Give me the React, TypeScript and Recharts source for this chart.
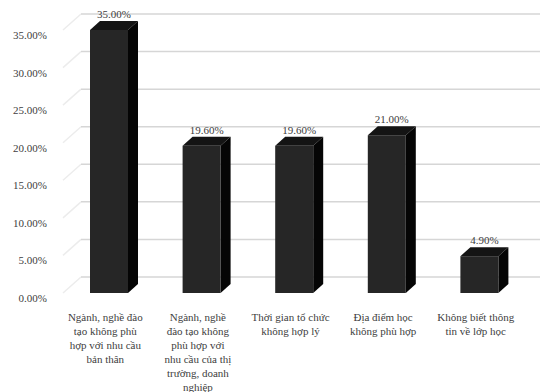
import React from 'react';
import { Bar, BarChart, CartesianGrid, LabelList, XAxis, YAxis } from 'recharts';

const categories = [
  'Ngành, nghề đào tạo không phù hợp với nhu cầu bản thân',
  'Ngành, nghề đào tạo không phù hợp với nhu cầu của thị trường, doanh nghiệp',
  'Thời gian tổ chức không hợp lý',
  'Địa điểm học không phù hợp',
  'Không biết thông tin về lớp học',
];

// wrapped tick text, one array per category
const categoryLines = [
  ['Ngành, nghề đào', 'tạo không phù', 'hợp với nhu cầu', 'bản thân'],
  ['Ngành, nghề', 'đào tạo không', 'phù hợp với', 'nhu cầu của thị', 'trường, doanh', 'nghiệp'],
  ['Thời gian tổ chức', 'không hợp lý'],
  ['Địa điểm học', 'không phù hợp'],
  ['Không biết thông', 'tin về lớp học'],
];

const shares = [0.35, 0.196, 0.196, 0.21, 0.049];

const yTicks = [0, 0.05, 0.1, 0.15, 0.2, 0.25, 0.3, 0.35];

const data = categories.map((name, i) => ({ name, value: shares[i] }));

const textStyle = { fontFamily: "'Liberation Serif', 'Times New Roman', serif", fontSize: 11, fill: '#404040' };
const DX = 10; // bar depth
const DY = 9;
const WALL_DX = 18; // back wall offset
const WALL_DY = 16;

const pct = (v: number) => (v * 100).toFixed(2) + '%';

function Bar3D(props: any) {
  const { x, y, width, height } = props;
  if (!height) return null;
  const r = x + width;
  const b = y + height;
  return (
    <g>
      <path d={`M${x},${y} L${x + DX},${y - DY} L${r + DX},${y - DY} L${r},${y} Z`} fill="#141414" />
      <path d={`M${r},${y} L${r + DX},${y - DY} L${r + DX},${b - DY} L${r},${b} Z`} fill="#050505" />
      <rect x={x} y={y} width={width} height={height} fill="#262626" />
    </g>
  );
}

function WallLine(props: any) {
  const { x1, y1 } = props;
  return (
    <g>
      <line x1={x1} y1={y1} x2={x1 + WALL_DX} y2={y1 - WALL_DY} stroke="#ececec" strokeWidth={1.5} />
      <line x1={x1 + WALL_DX} y1={y1 - WALL_DY} x2={540} y2={y1 - WALL_DY} stroke="#d6d6d6" strokeWidth={1.5} />
    </g>
  );
}

function YTick(props: any) {
  const { y, payload } = props;
  return (
    <text x={39} y={y + 5} textAnchor="end" dominantBaseline="central" style={textStyle}>
      {pct(payload.value)}
    </text>
  );
}

function XTick(props: any) {
  const { x, y, index } = props;
  const lines = categoryLines[index] || [];
  return (
    <g>
      {lines.map((line, i) => (
        <text key={i} x={x - 4} y={y + 24 + i * 14} textAnchor="middle" dominantBaseline="central" style={textStyle}>
          {line}
        </text>
      ))}
    </g>
  );
}

function ValueLabel(props: any) {
  const { x, y, width, value } = props;
  return (
    <text x={x + width / 2 + 5} y={y - 16} textAnchor="middle" dominantBaseline="central" style={textStyle}>
      {pct(value)}
    </text>
  );
}

export default function App() {
  return (
    <BarChart width={540} height={384} data={data} margin={{ top: 22, right: 22, left: 0, bottom: 0 }} barSize={38} style={{ overflow: 'visible' }}>
      <CartesianGrid vertical={false} horizontal={(p: any) => <WallLine key={p.key} {...p} />} />
      <XAxis dataKey="name" axisLine={false} tickLine={false} tickSize={0} tickMargin={0} height={99} interval={0} tick={<XTick />} />
      <YAxis domain={[0, 0.35]} ticks={yTicks} axisLine={false} tickLine={false} width={55} tick={<YTick />} />
      <Bar dataKey="value" shape={<Bar3D />} isAnimationActive={false}>
        <LabelList dataKey="value" content={<ValueLabel />} />
      </Bar>
    </BarChart>
  );
}
